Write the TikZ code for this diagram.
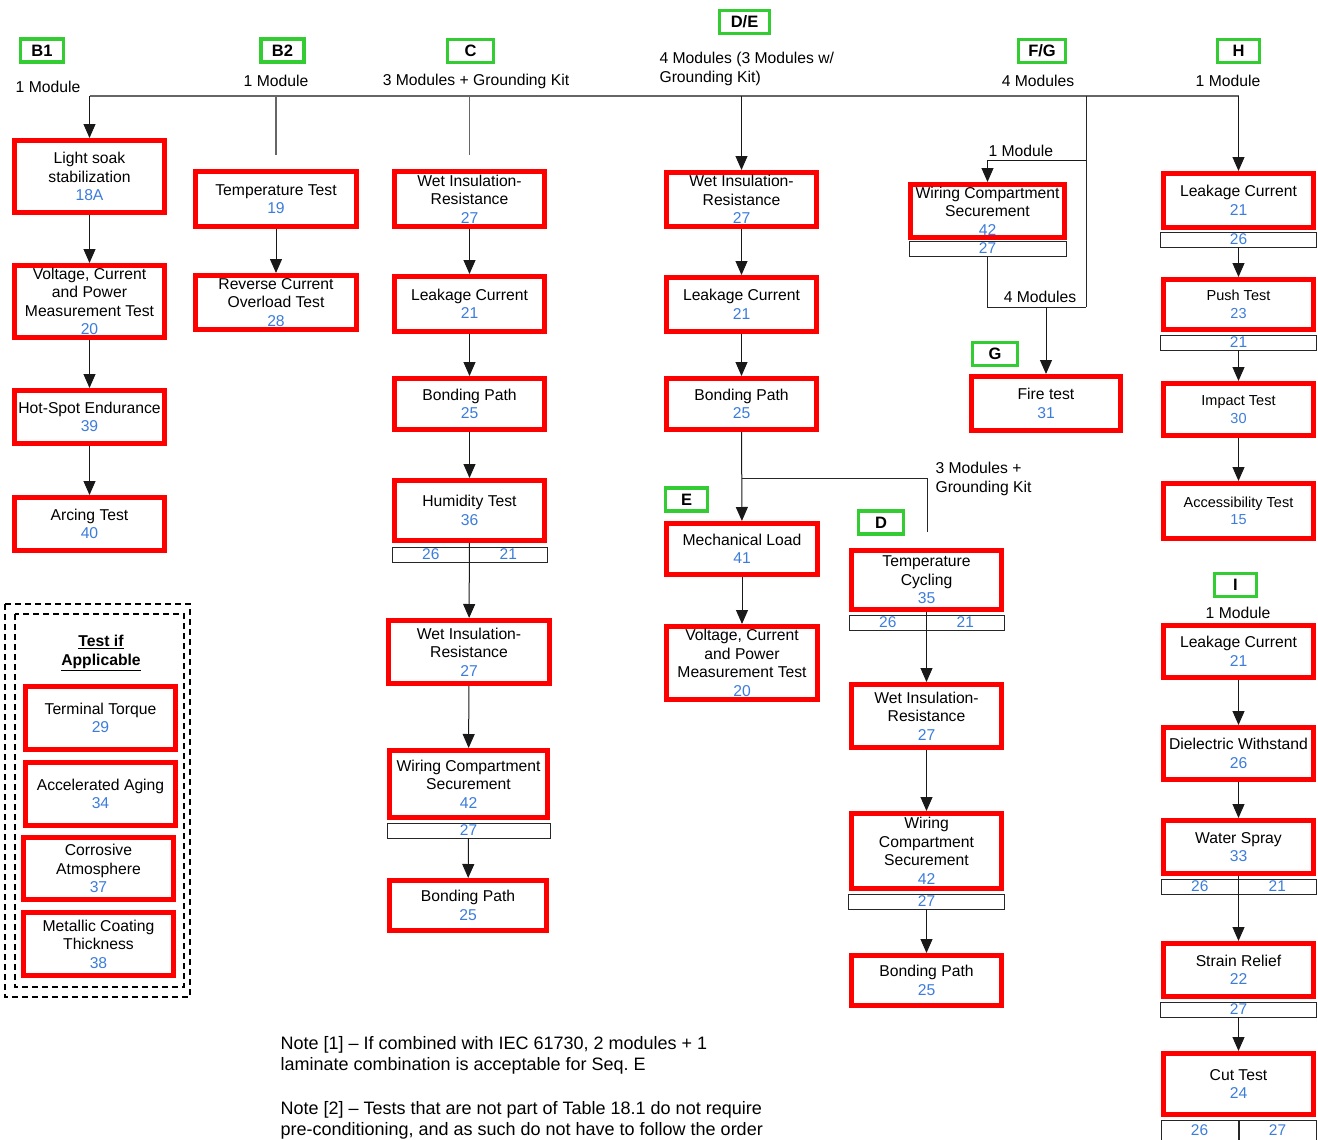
\documentclass[tikz,border=0pt]{standalone}
\usepackage{fontspec}
\setmainfont{Liberation Sans}
\usetikzlibrary{arrows.meta}
\definecolor{numblue}{RGB}{60,125,220}
\definecolor{seqgreen}{RGB}{51,204,51}
\newcommand{\cln}[1]{\textcolor{numblue}{#1}}
\frenchspacing

\begin{document}
\begin{tikzpicture}[x=1pt, y=-1pt, font=\fontsize{15.7}{18.5}\selectfont,
	tst/.style={draw=red, line width=5pt, fill=white, align=center, minimum width=150pt, inner sep=0.5pt},
	sub/.style={draw=black!85, line width=0.9pt, minimum height=15pt, inner sep=0pt, outer sep=0pt, font=\fontsize{15.5}{15.5}\selectfont, text=numblue},
	seq/.style={draw=seqgreen, line width=3.2pt, minimum height=23pt, inner sep=0pt, font=\fontsize{16.5}{16.5}\selectfont\bfseries},
	arr/.style={-{Triangle[length=14pt, width=12pt]}, line width=1pt, black!90},
	ln/.style={line width=1pt, black!85},
	bus/.style={line width=1.2pt, black!60},
	dbox/.style={dashed, dash pattern=on 6pt off 4pt, line width=1.1pt}]
	\useasboundingbox (0,0) rectangle (1318,1140);

	% sequence labels
	\node[seq, minimum width=43pt] (seqB1) at (42,50.5) {B1};
	\node[seq, minimum width=43pt] (seqB2) at (282.5,50.5) {B2};
	\node[seq, minimum width=46pt] (seqC) at (470.5,51) {C};
	\node[seq, minimum width=50pt] (seqDE) at (744.5,22) {D/E};
	\node[seq, minimum width=47pt] (seqFG) at (1042,51) {F/G};
	\node[seq, minimum width=42pt] (seqH) at (1238.5,51) {H};
	\node[seq, minimum width=42pt] (seqE) at (686.5,499.5) {E};
	\node[seq, minimum width=45pt] (seqD) at (881,522.5) {D};
	\node[seq, minimum width=45pt] (seqG) at (995,354) {G};
	\node[seq, minimum width=42pt] (seqI) at (1235.5,585) {I};

	\node (modB1) at (48,87) {1 Module};
	\node (modB2) at (276,81) {1 Module};
	\node (modC) at (476,81) {3 Modules + Grounding Kit};
	\node[anchor=west, align=left] (modDE) at (656,69) {4 Modules (3 Modules w/\\Grounding Kit)};
	\node (modFG) at (1038,81) {4 Modules};
	\node (modH) at (1228,81) {1 Module};
	\node[anchor=west] (modF1) at (985,151) {1 Module};
	\node (modG4) at (1040,297) {4 Modules};
	\node[anchor=west, align=left] (modD) at (932,479) {3 Modules +\\Grounding Kit};
	\node (modI) at (1238,613) {1 Module};

	% B1
	\node[tst, minimum height=72pt] (ls) at (89.5,176.5) {Light soak\\stabilization\\\cln{18A}};
	\node[tst, minimum height=72pt] (vcp) at (89.5,301.5) {Voltage, Current\\and Power\\Measurement Test\\\cln{20}};
	\node[tst, minimum height=53pt] (hse) at (89.5,417) {Hot-Spot Endurance\\\cln{39}};
	\node[tst, minimum height=53pt] (arc) at (89.5,524) {Arcing Test\\\cln{40}};

	% B2
	\node[tst, minimum width=161pt, minimum height=55pt] (tmp) at (276,199) {Temperature Test\\\cln{19}};
	\node[tst, minimum width=161pt, minimum height=54pt] (rco) at (276,302.5) {Reverse Current\\Overload Test\\\cln{28}};

	% C
	\node[tst, minimum height=55pt] (cwi) at (469.5,199) {Wet Insulation-\\Resistance\\\cln{27}};
	\node[tst, minimum height=55pt] (clc) at (469.5,304) {Leakage Current\\\cln{21}};
	\node[tst, minimum height=51pt] (cbp) at (469.5,404) {Bonding Path\\\cln{25}};
	\node[tst, minimum height=60pt] (chu) at (469.5,510.5) {Humidity Test\\\cln{36}};
	\node[sub, minimum width=77.5pt, anchor=north west] (chu-a) at ([yshift=-4pt]chu.south west) {26};
	\node[sub, minimum width=77.5pt, anchor=north east] (chu-b) at ([yshift=-4pt]chu.south east) {21};
	\node[tst, minimum width=161pt, minimum height=63pt] (cwi2) at (469,652) {Wet Insulation-\\Resistance\\\cln{27}};
	\node[tst, minimum width=158pt, minimum height=67pt] (cwc) at (468.5,784) {Wiring Compartment\\Securement\\\cln{42}};
	\node[sub, minimum width=163pt, anchor=north] (cwc-s) at ([yshift=-3pt]cwc.south) {27};
	\node[tst, minimum width=157pt, minimum height=50pt] (cbp2) at (468,905.5) {Bonding Path\\\cln{25}};

	% D/E
	\node[tst, minimum height=54pt] (dwi) at (741.5,199.5) {Wet Insulation-\\Resistance\\\cln{27}};
	\node[tst, minimum height=54pt] (dlc) at (741.5,304.5) {Leakage Current\\\cln{21}};
	\node[tst, minimum height=51pt] (dbp) at (741.5,404) {Bonding Path\\\cln{25}};
	\node[tst, minimum width=151pt, minimum height=51pt] (eml) at (742,549) {Mechanical Load\\\cln{41}};
	\node[tst, minimum width=151pt, minimum height=73pt] (evc) at (742,663) {Voltage, Current\\and Power\\Measurement Test\\\cln{20}};

	% D
	\node[tst, minimum height=59pt] (dtc) at (926.5,580) {Temperature\\Cycling\\\cln{35}};
	\node[sub, minimum width=77.5pt, anchor=north west] (dtc-a) at ([yshift=-3pt]dtc.south west) {26};
	\node[sub, minimum width=77.5pt, anchor=north east] (dtc-b) at ([yshift=-3pt]dtc.south east) {21};
	\node[tst, minimum height=63pt] (dwi2) at (926.5,716) {Wet Insulation-\\Resistance\\\cln{27}};
	\node[tst, minimum height=75pt] (dwc) at (926.5,851) {Wiring\\Compartment\\Securement\\\cln{42}};
	\node[sub, minimum width=156pt, anchor=north] (dwc-s) at ([yshift=-3pt]dwc.south) {27};
	\node[tst, minimum height=50pt] (dbp2) at (926.5,980.5) {Bonding Path\\\cln{25}};

	% F/G
	\node[tst, minimum width=154pt, minimum height=53pt] (fwc) at (987.5,211) {Wiring Compartment\\Securement\\\cln{42}};
	\node[sub, minimum width=157pt, anchor=north] (fwc-s) at ([yshift=-1pt]fwc.south) {27};
	\node[tst, minimum width=149pt, minimum height=54pt] (gft) at (1046,403.5) {Fire test\\\cln{31}};

	% H
	\node[tst, minimum height=54pt] (hlc) at (1238.5,200.5) {Leakage Current\\\cln{21}};
	\node[sub, minimum width=156pt, anchor=north] (hlc-s) at ([yshift=-2pt]hlc.south) {26};
	\node[tst, minimum height=50pt, font=\fontsize{14.5}{17.5}\selectfont] (hpt) at (1238.5,304.5) {Push Test\\\cln{23}};
	\node[sub, minimum width=156pt, anchor=north] (hpt-s) at ([yshift=-3pt]hpt.south) {21};
	\node[tst, minimum height=52pt, font=\fontsize{14.5}{17.5}\selectfont] (hit) at (1238.5,409.5) {Impact Test\\\cln{30}};
	\node[tst, minimum height=55pt, font=\fontsize{14.5}{17.5}\selectfont] (hat) at (1238.5,511) {Accessibility Test\\\cln{15}};

	% I
	\node[tst, minimum height=52pt] (ilc) at (1238.5,651.5) {Leakage Current\\\cln{21}};
	\node[tst, minimum height=52pt] (idw) at (1238.5,753.5) {Dielectric Withstand\\\cln{26}};
	\node[tst, minimum height=53pt] (iws) at (1238.5,847) {Water Spray\\\cln{33}};
	\node[sub, minimum width=77.5pt, anchor=north west] (iws-a) at ([yshift=-3pt]iws.south west) {26};
	\node[sub, minimum width=77.5pt, anchor=north east] (iws-b) at ([yshift=-3pt]iws.south east) {21};
	\node[tst, minimum height=53pt] (isr) at (1238.5,970) {Strain Relief\\\cln{22}};
	\node[sub, minimum width=156pt, anchor=north] (isr-s) at ([yshift=-3pt]isr.south) {27};
	\node[tst, minimum height=61pt] (ict) at (1238.5,1084) {Cut Test\\\cln{24}};
	\node[sub, minimum width=77pt, minimum height=20pt, anchor=north west] (ict-a) at ([yshift=-3pt]ict.south west) {26};
	\node[sub, minimum width=77pt, minimum height=20pt, anchor=north east] (ict-b) at ([yshift=-3pt]ict.south east) {27};

	% test if applicable
	\draw[dbox] (5,604) rectangle (190,997);
	\draw[dbox] (15,614) rectangle (184,987);
	\node[align=center, font=\fontsize{15.7}{18.5}\selectfont\bfseries] (tia) at (101,653) {\underline{Test if}\\\underline{Applicable}};
	\node[tst, minimum height=63pt] (ttq) at (100.5,718) {Terminal Torque\\\cln{29}};
	\node[tst, minimum height=63pt] (aag) at (100.5,794) {Accelerated Aging\\\cln{34}};
	\node[tst, minimum height=62pt] (cat) at (98.5,868.5) {Corrosive\\Atmosphere\\\cln{37}};
	\node[tst, minimum height=63pt] (mct) at (98.5,944) {Metallic Coating\\Thickness\\\cln{38}};

	% notes
	\node[anchor=north west, align=left, font=\fontsize{18}{21}\selectfont] (note1) at (277,1033) {Note [1] – If combined with IEC 61730, 2 modules + 1\\laminate combination is acceptable for Seq. E};
	\node[anchor=north west, align=left, font=\fontsize{18}{21}\selectfont] (note2) at (277,1098) {Note [2] – Tests that are not part of Table 18.1 do not require\\pre-conditioning, and as such do not have to follow the order};

	% connectors
	\coordinate (busL) at (89.5,96);
	\coordinate (busR) at (1238.5,96);
	\coordinate (b2end) at (276,155);
	\coordinate (cend) at (469.5,155);
	\coordinate (dsplit) at (741.5,478);
	\coordinate (dend) at (927,532);
	\coordinate (fgtop) at (1086,96);
	\coordinate (fgmid) at (1086,160);
	\coordinate (fgbot) at (1086,307);

	\draw[bus] (busL) -- (busR);
	\draw[arr] (busL) -- (ls);
	\draw[arr] (ls) -- (vcp);
	\draw[arr] (vcp) -- (hse);
	\draw[arr] (hse) -- (arc);

	\draw[bus] (b2end |- busL) -- (b2end);
	\draw[arr] (tmp) -- (rco);

	\draw[bus] (cend |- busL) -- (cend);
	\draw[arr] (cwi) -- (clc);
	\draw[arr] (clc) -- (cbp);
	\draw[arr] (cbp) -- (chu);
	\draw[arr] (chu) -- (cwi2);
	\draw[arr] (cwi2) -- (cwc);
	\draw[arr] (cwc-s) -- (cbp2);

	\draw[arr] (busL -| dwi) -- (dwi);
	\draw[arr] (dwi) -- (dlc);
	\draw[arr] (dlc) -- (dbp);
	\draw[arr] (dbp) -- (eml);
	\draw[ln] (dsplit) -| (dend);
	\draw[arr] (eml) -- (evc);

	\draw[arr] (dtc) -- (dwi2);
	\draw[arr] (dwi2) -- (dwc);
	\draw[arr] (dwc-s) -- (dbp2);

	\draw[ln] (fgtop) -- (fgbot);
	\draw[arr] (fgmid) -| (fwc);
	\draw[ln] (fwc-s.south) |- (fgbot);
	\draw[arr] (fgbot -| gft) -- (gft);

	\draw[arr] (busR) -- (hlc);
	\draw[arr] (hlc-s) -- (hpt);
	\draw[arr] (hpt-s) -- (hit);
	\draw[arr] (hit) -- (hat);

	\draw[arr] (ilc) -- (idw);
	\draw[arr] (idw) -- (iws);
	\draw[arr] (iws) -- (isr);
	\draw[arr] (isr-s) -- (ict);
\end{tikzpicture}
\end{document}
